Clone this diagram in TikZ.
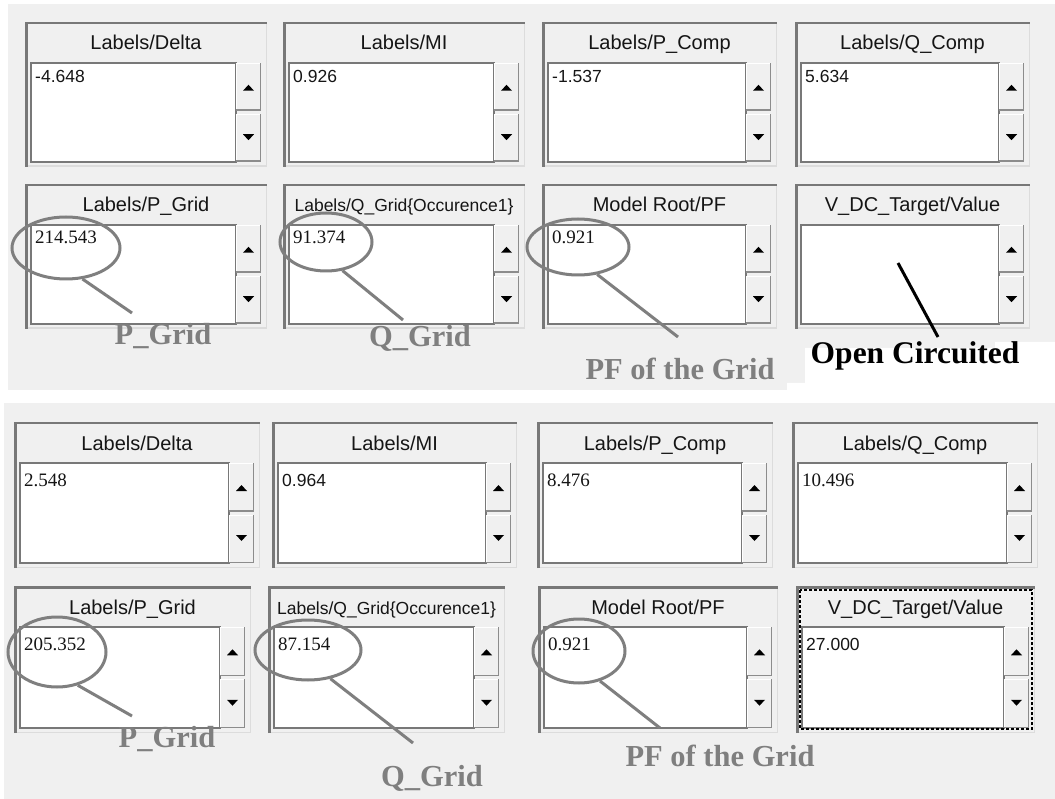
\documentclass[tikz,border=0pt]{standalone}
\usepackage{fontspec}
\setmainfont{Liberation Serif}
\setsansfont{Liberation Sans}
\usetikzlibrary{shapes.geometric}
\definecolor{panel}{HTML}{F0F0F0}
\definecolor{edge}{HTML}{787878}
\definecolor{softedge}{HTML}{DCDCDC}
\definecolor{btnedge}{HTML}{8C8C8C}
\definecolor{markgray}{HTML}{7F7F7F}
\definecolor{ink}{HTML}{151515}
\tikzset{
  titletext/.style={inner sep=0pt, anchor=base, text=ink, font=\sffamily},
  valtext/.style={inner sep=0pt, anchor=base west, text=ink},
  ring/.style={ellipse, draw=markgray, line width=3pt, inner sep=0pt, fill=none},
  lead/.style={draw=markgray, line width=3pt},
  lab/.style={inner sep=0pt, text=markgray, font=\bfseries\fontsize{30.5}{32}\selectfont},
  blacklab/.style={inner sep=0pt, text=black, font=\bfseries\fontsize{31.5}{33}\selectfont},
}
\newcommand\valoff{20}
\newcommand\sansval{\sffamily\fontsize{17.5}{20}\selectfont}
\newcommand\serifval{\rmfamily\fontsize{19}{22}\selectfont}
% #1 name, #2 x0, #3 y0, #4 x1, #5 y1, #6 title, #7 value, #8 value font, #9 title size
\newcommand\winbox[9]{%
  \pgfmathsetmacro\WL{#2+6}%
  \pgfmathsetmacro\WR{#4-31}%
  \pgfmathsetmacro\BR{#4-6}%
  \pgfmathsetmacro\WT{#3+41}%
  \pgfmathsetmacro\WB{#5-5}%
  \pgfmathsetmacro\WM{(\WT+\WB)/2}%
  \pgfmathsetmacro\CX{(\WR+\BR)/2}%
  \pgfmathsetmacro\UY{(\WT+\WM)/2}%
  \pgfmathsetmacro\DY{(\WM+\WB)/2}%
  \fill[panel] (#2,#3) rectangle (#4,#5);
  \draw[softedge, line width=1.5pt] (#2+1,#5-0.75) -- (#4-0.75,#5-0.75) -- (#4-0.75,#3+1);
  \draw[edge, line width=2.5pt] (#2+1.25,#5) -- (#2+1.25,#3+1.25) -- (#4,#3+1.25);
  \node[titletext, font=\sffamily\fontsize{#9}{#9}\selectfont] (#1-t) at ({(#2+#4)/2},#3+28) {#6};
  \draw[fill=white, draw=edge, line width=1.3pt] (\WL,\WT) rectangle (\WR,\WB);
  \coordinate (#1-w) at (\WL,\WT);
  % up button
  \fill[panel] (\WR,\WT) rectangle (\BR,\WM-1.5);
  \draw[white, line width=1pt] (\WR+0.5,\WM-2) -- (\WR+0.5,\WT+0.5) -- (\BR-1,\WT+0.5);
  \draw[btnedge, line width=1.5pt] (\WR,\WM-2.25) -- (\BR-0.75,\WM-2.25) -- (\BR-0.75,\WT);
  % down button
  \fill[panel] (\WR,\WM+1.5) rectangle (\BR,\WB);
  \draw[white, line width=1pt] (\WR+0.5,\WB-1) -- (\WR+0.5,\WM+2) -- (\BR-1,\WM+2);
  \draw[btnedge, line width=1.5pt] (\WR,\WB-0.75) -- (\BR-0.75,\WB-0.75) -- (\BR-0.75,\WM+1.5);
  \fill[black] (\CX-5.5,\UY+3) -- (\CX+5.5,\UY+3) -- (\CX,\UY-3) -- cycle;
  \fill[black] (\CX-5.5,\DY-3) -- (\CX+5.5,\DY-3) -- (\CX,\DY+3) -- cycle;
  \node[valtext] (#1-v) at (\WL+4,\WT+\valoff) {#8#7};
}
\begin{document}
\begin{tikzpicture}[x=1pt,y=-1pt]
\useasboundingbox (0,0) rectangle (1055,799);
\fill[white] (0,0) rectangle (1055,799);
\fill[panel] (8,4) rectangle (1055,390);
\fill[panel] (4,403) rectangle (1055,799);

% ---------- top panel ----------
\renewcommand\valoff{20}
\winbox{a1}{25}{22}{267}{167}{Labels/Delta}{-4.648}{\sansval}{20}
\winbox{a2}{283}{22}{525}{167}{Labels/MI}{0.926}{\sansval}{20}
\winbox{a3}{542}{22}{777}{167}{Labels/P\_Comp}{-1.537}{\sansval}{20}
\winbox{a4}{795}{22}{1030}{167}{Labels/Q\_Comp}{5.634}{\sansval}{20}
\renewcommand\valoff{18.5}
\winbox{a5}{25}{184}{267}{329}{Labels/P\_Grid}{214.543}{\serifval}{20}
\winbox{a6}{283}{184}{525}{329}{Labels/Q\_Grid\{Occurence1\}}{91.374}{\serifval}{17.5}
\winbox{a7}{542}{184}{777}{329}{Model Root/PF}{0.921}{\serifval}{20}
\winbox{a8}{795}{184}{1030}{329}{V\_DC\_Target/Value}{}{\serifval}{20}

% white patch behind "Open Circuited"
\fill[white] (805,348) -- (995,348) -- (995,342) -- (1055,342) -- (1055,392) -- (787,392) -- (787,383) -- (805,383) -- cycle;

\node[ring, minimum width=108pt, minimum height=62pt] (e1) at (66,248) {};
\node[lab] (l1) at (163,336) {P\_Grid};
\coordinate (c1) at (132,313);
\draw[lead] (e1.-62) -- (c1);

\node[ring, minimum width=92pt, minimum height=58pt] (e2) at (326,242) {};
\node[lab] (l2) at (420,338) {Q\_Grid};
\coordinate (c2) at (403,320);
\draw[lead] (e2.-60) -- (c2);

\node[ring, minimum width=102pt, minimum height=56pt] (e3) at (578,247) {};
\node[lab] (l3) at (680,369) {PF of the Grid};
\coordinate (c3) at (678,337);
\draw[lead] (e3.-55) -- (c3);

\coordinate (o0) at (898,263);
\node[blacklab] (l4) at (915,356) {Open Circuited};
\coordinate (o1) at (938,337);
\draw[black, line width=3pt] (o0) -- (o1);

% ---------- bottom panel ----------
\renewcommand\valoff{23}
\winbox{b1}{14}{422}{260}{568}{Labels/Delta}{2.548}{\serifval}{20}
\winbox{b2}{272}{422}{517}{568}{Labels/MI}{0.964}{\sansval}{20}
\winbox{b3}{537}{422}{773}{568}{Labels/P\_Comp}{8.476}{\serifval}{20}
\winbox{b4}{792}{422}{1038}{568}{Labels/Q\_Comp}{10.496}{\serifval}{20}
\winbox{b5}{14}{586}{251}{733}{Labels/P\_Grid}{205.352}{\serifval}{20}
\winbox{b6}{268}{586}{505}{733}{Labels/Q\_Grid\{Occurence1\}}{87.154}{\serifval}{17.5}
\winbox{b7}{538}{586}{778}{733}{Model Root/PF}{0.921}{\serifval}{20}
\winbox{b8}{796}{586}{1035}{733}{V\_DC\_Target/Value}{27.000}{\sansval}{20}
\draw[black, line width=1.2pt, dash pattern=on 3pt off 2pt] (800,590) rectangle (1032,729);

\node[ring, minimum width=98pt, minimum height=70pt] (e4) at (57,652) {};
\node[lab] (l5) at (167,739) {P\_Grid};
\coordinate (c5) at (132,716);
\draw[lead] (e4.-58) -- (c5);

\node[ring, minimum width=106pt, minimum height=60pt] (e5) at (308,650) {};
\node[lab] (l6) at (432,778) {Q\_Grid};
\coordinate (c6) at (413,743);
\draw[lead] (e5.-52) -- (c6);

\node[ring, minimum width=92pt, minimum height=64pt] (e6) at (579,651) {};
\node[lab] (l7) at (720,756) {PF of the Grid};
\coordinate (c7) at (660,728);
\draw[lead] (e6.-55) -- (c7);
\end{tikzpicture}
\end{document}
